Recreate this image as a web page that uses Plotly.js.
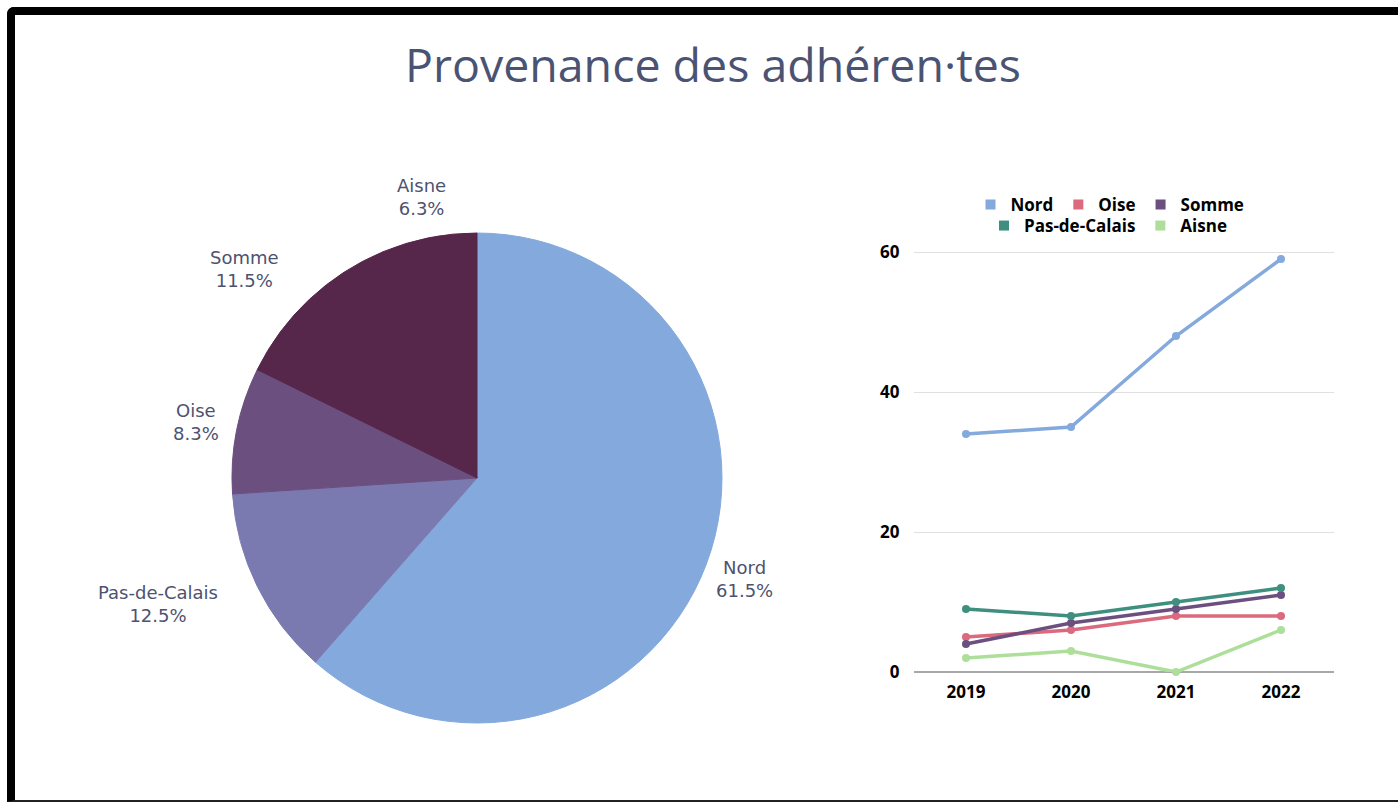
<!DOCTYPE html>
<html>
<head>
<meta charset="utf-8">
<script src="https://cdn.plot.ly/plotly-3.0.1.min.js"></script>
<style>
  html, body { margin: 0; padding: 0; background: #ffffff; overflow: hidden; }
  #chart { width: 1398px; height: 802px; }
  #frame {
    position: absolute; left: 7px; top: 7px; width: 1420px; height: 785px;
    border-top: 8px solid #000; border-left: 8px solid #000; border-bottom: 2px solid #222;
    border-top-left-radius: 7px; pointer-events: none;
  }
</style>
</head>
<body>
<div id="chart"></div>
<div id="frame"></div>
<script>
// ---- data ----
const years = ["2019", "2020", "2021", "2022"];
const nord = [34, 35, 48, 59];
const oise = [5, 6, 8, 8];
const somme = [4, 7, 9, 11];
const pasDeCalais = [9, 8, 10, 12];
const aisne = [2, 3, 0, 6];

const pieLabels = ["Nord", "Pas-de-Calais", "Oise", "Somme", "Aisne"];
const pieValues = [59, 12, 8, 11, 6];   // 2022 membership
// ---- styles ----
const pieColors = ["#83a9dd", "#7a7ab1", "#6b4f7f", "#56264b", "#56264b"];
const pieLabelAnchor = ["center", "right", "center", "right", "center"];

const lineSeries = [
  { name: "Nord", y: nord, color: "#83a9dd", legend: "legend" },
  { name: "Oise", y: oise, color: "#dc6a7e", legend: "legend" },
  { name: "Somme", y: somme, color: "#6b4f7f", legend: "legend" },
  { name: "Pas-de-Calais", y: pasDeCalais, color: "#3f8f80", legend: "legend2" },
  { name: "Aisne", y: aisne, color: "#addf9b", legend: "legend2" }
];

const W = 1398, H = 802;
const PIE_CX = 477, PIE_CY = 478, PIE_R = 245, LABEL_R = 286;
const traces = [];

traces.push({
  type: "pie",
  labels: pieLabels,
  values: pieValues,
  sort: false,
  direction: "clockwise",
  rotation: 0,
  marker: { colors: pieColors, line: { width: 1, color: pieColors } },
  textinfo: "none",
  showlegend: false,
  hoverinfo: "label+percent",
  domain: { x: [(PIE_CX - PIE_R) / W, (PIE_CX + PIE_R) / W], y: [(H - PIE_CY - PIE_R) / H, (H - PIE_CY + PIE_R) / H] }
});

lineSeries.forEach(s => {
  traces.push({
    type: "scatter", mode: "lines+markers",
    x: years, y: s.y, name: s.name,
    line: { color: s.color, width: 3.5 },
    marker: { color: s.color, size: 8 },
    cliponaxis: false, showlegend: false,
    xaxis: "x", yaxis: "y"
  });
});
// legend swatches (square markers as in the original)
lineSeries.forEach(s => {
  traces.push({
    type: "scatter", mode: "markers",
    x: [null], y: [null], name: s.name,
    marker: { color: s.color, size: 10, symbol: "square" },
    showlegend: true, legend: s.legend, hoverinfo: "skip",
    xaxis: "x", yaxis: "y"
  });
});

// pie labels placed radially from the slice mid-angles
const total = pieValues.reduce((a, b) => a + b, 0);
const annotations = [];
let cum = 0;
pieValues.forEach((v, i) => {
  const mid = (cum + v / 2) / total * 2 * Math.PI;
  cum += v;
  const px = PIE_CX + LABEL_R * Math.sin(mid);
  const py = PIE_CY - LABEL_R * Math.cos(mid);
  annotations.push({
    xref: "paper", yref: "paper", x: px / W, y: 1 - py / H,
    xanchor: pieLabelAnchor[i], yanchor: "middle", align: "center",
    showarrow: false,
    text: pieLabels[i] + "<br>" + (v / total * 100).toFixed(1) + "%",
    font: { family: "DejaVu Sans, sans-serif", size: 18, color: "#4d5270" }
  });
});

const legendFont = { family: "Open Sans, sans-serif", size: 17, color: "#000", weight: 700 };
const tickFont = { family: "Open Sans, sans-serif", size: 17, color: "#000", weight: 700 };

const layout = {
  width: W, height: H,
  margin: { l: 0, r: 0, t: 0, b: 0 },
  paper_bgcolor: "#ffffff", plot_bgcolor: "#ffffff",
  title: {
    text: "Provenance des adhéren·tes",
    font: { family: "Open Sans, sans-serif", size: 46.5, color: "#4b5372" },
    x: 713 / W, xanchor: "center", y: 1 - 66 / H, yanchor: "middle"
  },
  xaxis: {
    domain: [913.5 / W, 1333.5 / W], type: "category", range: [-0.5, 3.5],
    showgrid: false, zeroline: false, showline: false,
    ticks: "", ticklabelstandoff: 8, tickfont: tickFont,
    fixedrange: true
  },
  yaxis: {
    domain: [(H - 672) / H, (H - 245) / H], range: [0, 61],
    tickvals: [0, 20, 40, 60], showgrid: true, gridcolor: "#e0e0e0", gridwidth: 1,
    zeroline: true, zerolinecolor: "#a8a8a8", zerolinewidth: 1.5, showline: false,
    ticks: "", ticklabelstandoff: 13, tickfont: tickFont,
    fixedrange: true
  },
  legend: {
    orientation: "h", x: 1110 / W, xanchor: "center", y: 1 - 205 / H, yanchor: "middle",
    font: legendFont, itemwidth: 30, bgcolor: "rgba(0,0,0,0)", traceorder: "normal"
  },
  legend2: {
    orientation: "h", x: 1108 / W, xanchor: "center", y: 1 - 226 / H, yanchor: "middle",
    font: legendFont, itemwidth: 30, bgcolor: "rgba(0,0,0,0)", traceorder: "normal"
  },
  annotations: annotations,
  showlegend: true
};

Plotly.newPlot("chart", traces, layout, { displayModeBar: false });
</script>
</body>
</html>
